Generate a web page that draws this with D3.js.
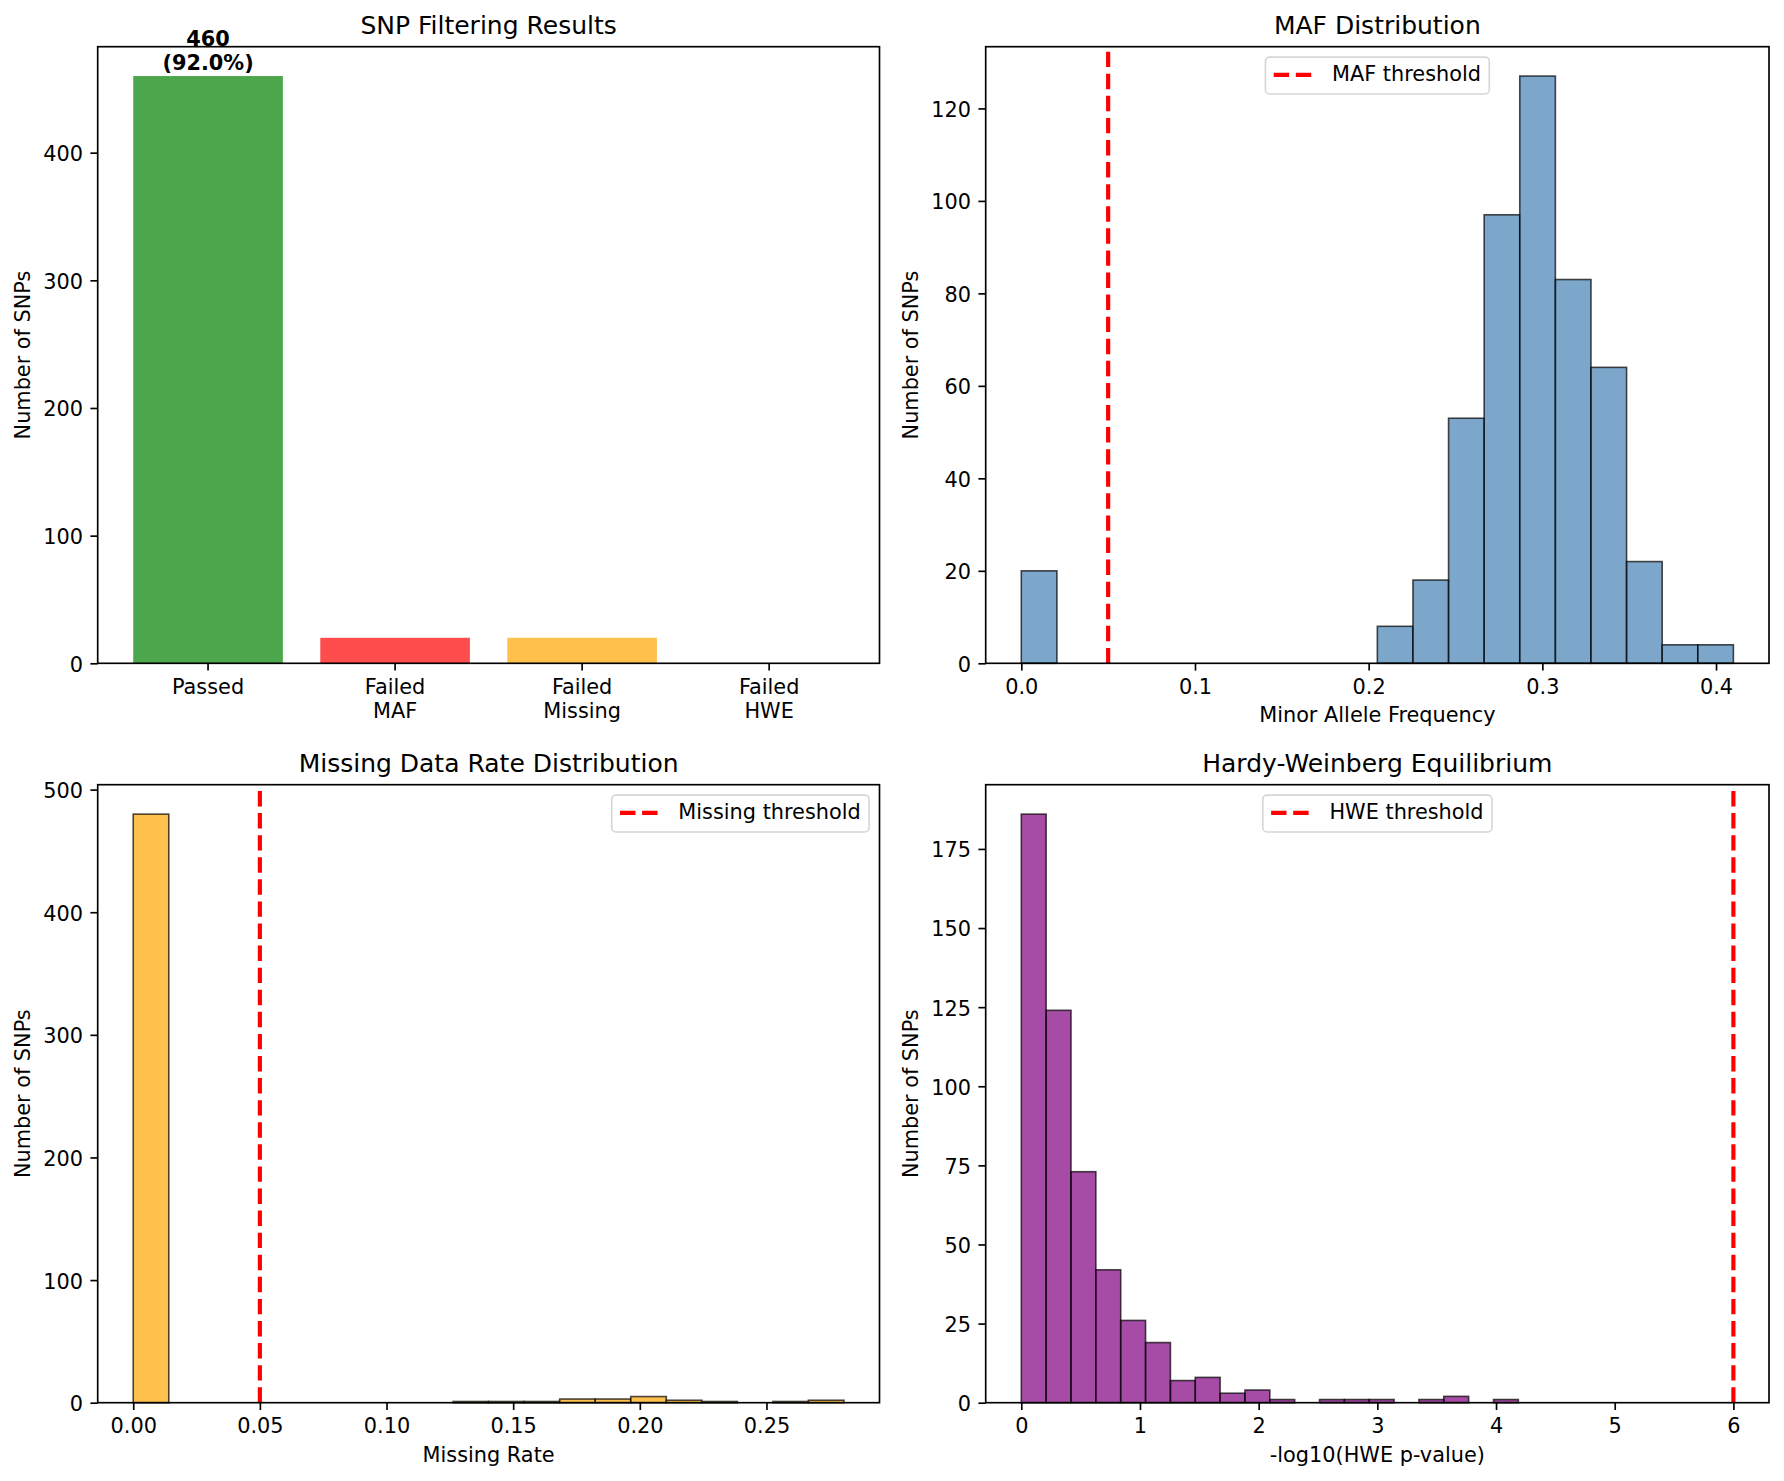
<!DOCTYPE html>
<html>
<head>
<meta charset="utf-8">
<script src="https://cdn.jsdelivr.net/npm/d3@7"></script>
<style>
  body { margin: 0; background: #fff; }
  svg text { font-family: "DejaVu Sans", sans-serif; fill: #000; }
</style>
</head>
<body>
<svg id="chart" width="1784" height="1481"></svg>
<script>
// ---------------- DATA ----------------
const filterCategories = ["Passed", "Failed\nMAF", "Failed\nMissing", "Failed\nHWE"];
const filterCounts = [460, 20, 20, 0];
const filterColors = ["green", "red", "orange", "purple"];
const filterYTicks = [0, 100, 200, 300, 400];

const mafBinEdges = [0, 0.0205, 0.041, 0.0615, 0.082, 0.1025, 0.123, 0.1435, 0.164, 0.1845,
  0.205, 0.2255, 0.246, 0.2665, 0.287, 0.3075, 0.328, 0.3485, 0.369, 0.3895, 0.41];
const mafCounts = [20, 0, 0, 0, 0, 0, 0, 0, 0, 0, 8, 18, 53, 97, 127, 83, 64, 22, 4, 4];
const mafThreshold = 0.05;
const mafXTicks = [0, 0.1, 0.2, 0.3, 0.4];
const mafYTicks = [0, 20, 40, 60, 80, 100, 120];

const missBinEdges = [0, 0.01403, 0.02806, 0.04209, 0.05612, 0.07015, 0.08418, 0.09821, 0.11224,
  0.12627, 0.1403, 0.15433, 0.16836, 0.18239, 0.19642, 0.21045, 0.22448, 0.23851, 0.25254, 0.26657, 0.2806];
const missCounts = [480, 0, 0, 0, 0, 0, 0, 0, 0, 1, 1, 1, 3, 3, 5, 2, 1, 0, 1, 2];
const missThreshold = 0.05;
const missXTicks = [0, 0.05, 0.10, 0.15, 0.20, 0.25];
const missYTicks = [0, 100, 200, 300, 400, 500];

const hweBinEdges = [0, 0.2094, 0.4188, 0.6282, 0.8376, 1.047, 1.2564, 1.4658, 1.6752, 1.8846,
  2.094, 2.3034, 2.5128, 2.7222, 2.9316, 3.141, 3.3504, 3.5598, 3.7692, 3.9786, 4.188];
const hweCounts = [186, 124, 73, 42, 26, 19, 7, 8, 3, 4, 1, 0, 1, 1, 1, 0, 1, 2, 0, 1];
const hweThreshold = 6;
const hweXTicks = [0, 1, 2, 3, 4, 5, 6];
const hweYTicks = [0, 25, 50, 75, 100, 125, 150, 175];

// ---------------- LAYOUT ----------------
const svg = d3.select("#chart");
const PT = 150 / 72;
const FS = 10 * PT, TFS = 12 * PT;
const COLX = [[97.7, 879.5], [985.7, 1769]];
const ROWY = [[46.7, 663.3], [784.7, 1402.7]];

function makeAxes(ci, ri) {
  const [x0, x1] = COLX[ci], [y0, y1] = ROWY[ri];
  return { x0, x1, y0, y1, cx: (x0 + x1) / 2, g: svg.append("g") };
}

function styleAxis(sel) {
  sel.attr("font-size", null).attr("font-family", null);
  sel.select(".domain").remove();
  sel.selectAll(".tick line").attr("stroke", "#000").attr("stroke-width", 0.8 * PT);
  sel.selectAll(".tick text").attr("fill", "#000").style("font-size", FS + "px");
}

function drawYAxis(ax, y, ticks) {
  const ga = ax.g.append("g").attr("transform", `translate(${ax.x0},0)`)
    .call(d3.axisLeft(y).tickValues(ticks).tickFormat(d3.format("d"))
      .tickSize(3.5 * PT).tickPadding(3.5 * PT));
  styleAxis(ga);
  ga.selectAll(".tick text").attr("dy", "0.38em");
  let maxW = 0;
  ga.selectAll(".tick text").each(function () { maxW = Math.max(maxW, this.getComputedTextLength()); });
  const xb = ax.x0 - 7 * PT - maxW - 4 * PT - 0.22 * FS;
  ax.g.append("text")
    .attr("transform", `translate(${xb},${(ax.y0 + ax.y1) / 2}) rotate(-90)`)
    .attr("text-anchor", "middle").style("font-size", FS + "px").text("Number of SNPs");
}

function drawXAxis(ax, x, ticks, fmt, label) {
  const axis = d3.axisBottom(x).tickSize(3.5 * PT).tickPadding(3.5 * PT);
  if (ticks) axis.tickValues(ticks);
  if (fmt) axis.tickFormat(fmt);
  const ga = ax.g.append("g").attr("transform", `translate(0,${ax.y1})`).call(axis);
  styleAxis(ga);
  ga.selectAll(".tick text").each(function (d) {
    const t = d3.select(this);
    const s = t.text();
    const lines = s.split("\n");
    t.text(null).attr("dy", null);
    lines.forEach((l, i) => {
      t.append("tspan").attr("x", 0).attr("dy", i === 0 ? "0.76em" : "1.15em").text(l);
    });
  });
  if (label) {
    ax.g.append("text").attr("x", ax.cx)
      .attr("y", ax.y1 + 7 * PT + 0.97 * FS + 4 * PT + 0.76 * FS)
      .attr("text-anchor", "middle").style("font-size", FS + "px").text(label);
  }
}

function drawTitle(ax, title) {
  ax.g.append("text").attr("x", ax.cx).attr("y", ax.y0 - 6 * PT)
    .attr("text-anchor", "middle").style("font-size", TFS + "px").text(title);
}

function drawSpines(ax) {
  ax.g.append("rect").attr("x", ax.x0).attr("y", ax.y0)
    .attr("width", ax.x1 - ax.x0).attr("height", ax.y1 - ax.y0)
    .attr("fill", "none").attr("stroke", "#000").attr("stroke-width", 0.8 * PT);
}

function drawVLine(ax, x, v) {
  ax.g.append("line").attr("x1", x(v)).attr("x2", x(v))
    .attr("y1", ax.y1).attr("y2", ax.y0)
    .attr("stroke", "red").attr("stroke-width", 2 * PT)
    .attr("stroke-dasharray", `${7.4 * PT},${3.2 * PT}`);
}

function drawLegend(ax, label, loc) {
  const lg = ax.g.append("g");
  const rect = lg.append("rect");
  const t = lg.append("text").style("font-size", FS + "px").text(label);
  const tw = t.node().getComputedTextLength();
  const bw = 0.4 * FS + 2 * FS + 0.8 * FS + tw + 0.4 * FS;
  const bh = 1.77 * FS;
  const pad = 0.5 * FS;
  const bx = loc === "upper right" ? ax.x1 - pad - bw : ax.cx - bw / 2;
  const by = ax.y0 + pad;
  rect.attr("x", bx).attr("y", by).attr("width", bw).attr("height", bh)
    .attr("rx", 0.2 * FS).attr("ry", 0.2 * FS)
    .attr("fill", "#fff").attr("fill-opacity", 0.8)
    .attr("stroke", "#ccc").attr("stroke-opacity", 0.8).attr("stroke-width", 1.6);
  lg.append("line").attr("x1", bx + 0.4 * FS).attr("x2", bx + 2.4 * FS)
    .attr("y1", by + 0.85 * FS).attr("y2", by + 0.85 * FS)
    .attr("stroke", "red").attr("stroke-width", 2 * PT)
    .attr("stroke-dasharray", `${7.4 * PT},${3.2 * PT}`);
  t.attr("x", bx + 3.2 * FS).attr("y", by + 0.4 * FS + 0.76 * FS);
}

function drawHist(ax, edges, counts, color, threshold, xTicks, xFmt, yTicks, title, xlabel, legendLabel, legendLoc) {
  const lo = Math.min(edges[0], threshold), hi = Math.max(edges[edges.length - 1], threshold);
  const m = 0.05 * (hi - lo);
  const x = d3.scaleLinear().domain([lo - m, hi + m]).range([ax.x0, ax.x1]);
  const y = d3.scaleLinear().domain([0, d3.max(counts) * 1.05]).range([ax.y1, ax.y0]);
  const bins = counts.map((c, i) => ({ x0: edges[i], x1: edges[i + 1], c }));
  ax.g.append("g").selectAll("rect").data(bins).join("rect")
    .attr("x", d => x(d.x0)).attr("width", d => x(d.x1) - x(d.x0))
    .attr("y", d => y(d.c)).attr("height", d => y(0) - y(d.c))
    .attr("fill", color).attr("fill-opacity", 0.7)
    .attr("stroke", "#000").attr("stroke-opacity", 0.7).attr("stroke-width", 1.6);
  drawVLine(ax, x, threshold);
  drawSpines(ax);
  drawXAxis(ax, x, xTicks, xFmt, xlabel);
  drawYAxis(ax, y, yTicks);
  drawTitle(ax, title);
  drawLegend(ax, legendLabel, legendLoc);
}

// ---------- Panel 1: SNP Filtering Results ----------
{
  const ax = makeAxes(0, 0);
  const x = d3.scaleBand().domain(filterCategories).range([ax.x0, ax.x1])
    .paddingInner(0.2).paddingOuter(0.19);
  const y = d3.scaleLinear().domain([0, d3.max(filterCounts) * 1.05]).range([ax.y1, ax.y0]);
  const data = filterCategories.map((c, i) => ({ c, v: filterCounts[i], col: filterColors[i] }));
  ax.g.append("g").selectAll("rect").data(data).join("rect")
    .attr("x", d => x(d.c)).attr("width", x.bandwidth())
    .attr("y", d => y(d.v)).attr("height", d => y(0) - y(d.v))
    .attr("fill", d => d.col).attr("fill-opacity", 0.7);
  const total = d3.sum(filterCounts);
  const top = data[0];
  const lbl = ax.g.append("text").attr("text-anchor", "middle")
    .style("font-size", FS + "px").style("font-weight", "bold");
  const bx = x(top.c) + x.bandwidth() / 2;
  const b2 = y(top.v) - 5.6;
  lbl.append("tspan").attr("x", bx).attr("y", b2 - 24.8).text(top.v);
  lbl.append("tspan").attr("x", bx).attr("y", b2).text(`(${(top.v / total * 100).toFixed(1)}%)`);
  drawSpines(ax);
  drawXAxis(ax, x, null, null, null);
  drawYAxis(ax, y, filterYTicks);
  drawTitle(ax, "SNP Filtering Results");
}

// ---------- Panel 2: MAF ----------
drawHist(makeAxes(1, 0), mafBinEdges, mafCounts, "steelblue", mafThreshold,
  mafXTicks, d3.format(".1f"), mafYTicks, "MAF Distribution", "Minor Allele Frequency",
  "MAF threshold", "upper center");

// ---------- Panel 3: Missing ----------
drawHist(makeAxes(0, 1), missBinEdges, missCounts, "orange", missThreshold,
  missXTicks, d3.format(".2f"), missYTicks, "Missing Data Rate Distribution", "Missing Rate",
  "Missing threshold", "upper right");

// ---------- Panel 4: HWE ----------
drawHist(makeAxes(1, 1), hweBinEdges, hweCounts, "purple", hweThreshold,
  hweXTicks, d3.format("d"), hweYTicks, "Hardy-Weinberg Equilibrium", "-log10(HWE p-value)",
  "HWE threshold", "upper center");
</script>
</body>
</html>
